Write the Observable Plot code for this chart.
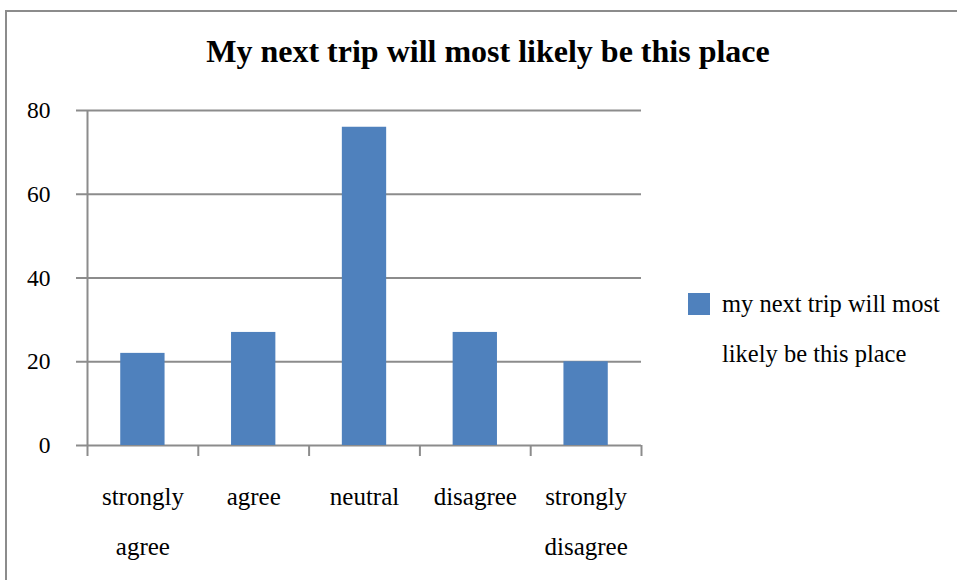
<!DOCTYPE html>
<html>
<head>
<meta charset="utf-8">
<script src="https://cdn.jsdelivr.net/npm/d3@7"></script>
<script src="https://cdn.jsdelivr.net/npm/@observablehq/plot@0.6"></script>
<style>
  html, body { margin: 0; padding: 0; background: #fff; }
  #wrap { position: relative; width: 957px; height: 580px; overflow: hidden; font-family: "Liberation Serif", serif; color: #000; }
  #frame { position: absolute; left: 5px; top: 10px; width: 1000px; height: 1000px; border: 2px solid #8c8c8c; box-sizing: border-box; }
  #title { position: absolute; left: 0; top: 35px; width: 976px; text-align: center; font-weight: bold; font-size: 32px; line-height: 32px; }
  #chart { position: absolute; left: 0; top: 0; }
  #legend { position: absolute; left: 688px; top: 279px; }
  #legend .sw { position: absolute; left: 0; top: 14px; width: 22px; height: 22px; background: #4F81BD; }
  #legend .tx { position: absolute; left: 34px; top: 0; width: 260px; font-size: 24.5px; line-height: 50px; white-space: nowrap; }
</style>
</head>
<body>
<div id="wrap">
  <div id="frame"></div>
  <div id="chart"></div>
  <div id="title"></div>
  <div id="legend"><div class="sw"></div><div class="tx"></div></div>
</div>
<script>
const titleText = "My next trip will most likely be this place";
const seriesName = "my next trip will most likely be this place";
const categories = ["strongly agree", "agree", "neutral", "disagree", "strongly disagree"];
const values = [22, 27, 76, 27, 20];
const yTicks = [0, 20, 40, 60, 80];

const data = categories.map((c, i) => ({category: c, value: values[i]}));

const W = 957, H = 580, mL = 87, mR = 316, mT = 110, mB = 135;
const step = (W - mL - mR) / categories.length;
const grid = "#8c8c8c";

document.getElementById("title").textContent = titleText;
document.querySelector("#legend .tx").innerHTML = "my next trip will most<br>likely be this place";

const chart = Plot.plot({
  width: W, height: H,
  marginLeft: mL, marginRight: mR, marginTop: mT, marginBottom: mB,
  style: {fontFamily: "'Liberation Serif', serif", fontSize: "23px", color: "#000", background: "transparent", overflow: "visible"},
  x: {domain: categories, paddingInner: 0.6, paddingOuter: 0.3, round: false, axis: null},
  y: {domain: [0, 80], axis: null},
  marks: [
    Plot.ruleY(yTicks, {stroke: grid, strokeWidth: 2, insetLeft: -11}),
    Plot.barY(data, {x: "category", y: "value", fill: "#4F81BD"}),
    Plot.ruleX([categories[0]], {x: d => d, dx: -step / 2, y1: 0, y2: 80, stroke: grid, strokeWidth: 2}),
    Plot.ruleX(categories, {x: d => d, dx: -step / 2, y1: 0, y2: 0, insetBottom: -11, stroke: grid, strokeWidth: 2}),
    Plot.ruleX([categories[categories.length - 1]], {x: d => d, dx: step / 2, y1: 0, y2: 0, insetBottom: -11, stroke: grid, strokeWidth: 2}),
    Plot.axisY({ticks: yTicks, tickSize: 0, tickPadding: 37, fontSize: 23.5, label: null}),
    Plot.axisX({tickSize: 0, tickPadding: 24, fontSize: 25, lineHeight: 2.0, label: null, tickFormat: d => d.replace(" ", "\n")})
  ]
});
document.getElementById("chart").appendChild(chart);
</script>
</body>
</html>
